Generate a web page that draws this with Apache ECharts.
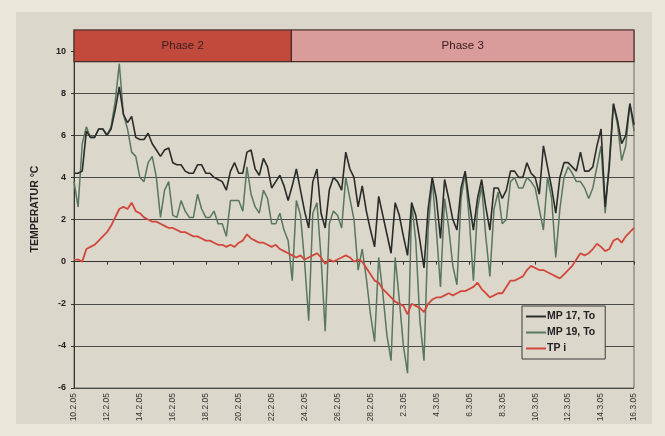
<!DOCTYPE html>
<html>
<head>
<meta charset="utf-8">
<script src="https://cdn.jsdelivr.net/npm/echarts@6/dist/echarts.min.js"></script>
<style>
  html, body { margin: 0; padding: 0; background: #eae6da; }
  #chart { width: 665px; height: 436px; }
</style>
</head>
<body>
<div id="chart"></div>
<script>
// Tick labels along the time axis (one every two days)
const dateLabels = ['10.2.05', '12.2.05', '14.2.05', '16.2.05', '18.2.05', '20.2.05',
  '22.2.05', '24.2.05', '26.2.05', '28.2.05', '2.3.05', '4.3.05', '6.3.05', '8.3.05',
  '10.3.05', '12.3.05', '14.3.05', '16.3.05'];

// Readings every 6 hours, starting 10.2.05 00:00
const stepDays = 0.25;

// MP 17, To
const mp17 = [
  4.2, 4.2, 4.3, 6.2, 5.9, 5.9, 6.3, 6.3, 6.0, 6.3, 7.2, 8.3,
  7.0, 6.6, 6.9, 5.9, 5.8, 5.8, 6.1, 5.6, 5.3, 5.0, 5.3, 5.4,
  4.7, 4.6, 4.6, 4.3, 4.2, 4.2, 4.6, 4.6, 4.2, 4.2, 4.0, 3.9,
  3.8, 3.4, 4.3, 4.7, 4.2, 4.2, 5.2, 5.3, 4.4, 4.1, 4.9, 4.5,
  3.5, 3.8, 4.1, 3.6, 2.9, 3.6, 4.4, 3.4, 2.4, 1.6, 3.8, 4.4,
  2.3, 1.6, 3.4, 4.0, 3.8, 3.4, 5.2, 4.4, 4.0, 2.6, 3.6, 2.4,
  1.5, 0.7, 3.1, 2.2, 1.3, 0.4, 2.8, 2.2, 1.2, 0.3, 2.8, 2.2,
  1.0, -0.3, 2.5, 4.0, 3.0, 1.1, 3.9, 3.0, 2.0, 1.5, 3.5, 4.3,
  2.8, 1.5, 3.0, 3.9, 2.6, 1.5, 3.5, 3.5, 3.0, 3.4, 4.3, 4.3,
  4.0, 4.0, 4.7, 4.2, 4.0, 3.2, 5.5, 4.5, 3.5, 2.3, 4.0, 4.7,
  4.7, 4.5, 4.3, 5.2, 4.3, 4.3, 4.5, 5.5, 6.3, 2.6, 4.5, 7.5,
  6.7, 5.6, 6.0, 7.5, 6.5
];

// MP 19, To
const mp19 = [
  3.8, 2.6, 5.6, 6.4, 5.9, 5.9, 6.3, 6.3, 6.0, 6.4, 7.6, 9.4,
  7.0, 6.3, 5.2, 5.0, 4.0, 3.8, 4.7, 5.0, 4.0, 2.1, 3.4, 3.8,
  2.2, 2.1, 2.9, 2.4, 2.1, 2.1, 3.2, 2.5, 2.1, 2.1, 2.4, 1.8,
  1.8, 1.2, 2.9, 2.9, 2.9, 2.4, 4.5, 3.2, 2.6, 2.3, 3.4, 3.0,
  1.8, 1.8, 2.3, 1.5, 1.0, -0.9, 2.9, 2.2, 0.0, -2.8, 2.3, 2.8,
  0.2, -3.3, 1.8, 2.4, 2.2, 1.6, 4.0, 3.0, 2.0, -0.4, 0.6, -0.8,
  -2.5, -3.8, 0.2, -1.5, -3.5, -4.7, 0.2, -1.8, -4.0, -5.3, 2.8, 1.0,
  -2.8, -4.7, 1.5, 3.9, 1.5, -1.2, 3.0, 1.6, -0.2, -1.1, 3.0, 4.2,
  2.0, -0.9, 2.5, 3.6, 1.2, -0.7, 2.5, 3.3, 1.8, 2.0, 3.8, 4.0,
  3.5, 3.5, 4.0, 3.8, 3.5, 2.5, 1.5, 4.0, 3.0, 0.2, 2.5, 4.0,
  4.5, 4.2, 3.8, 3.8, 3.5, 3.0, 3.5, 4.5, 5.5, 2.3, 4.8, 7.5,
  6.5, 4.8, 5.5, 7.5, 6.2
];

// TP i
const tpi = [
  0.1, 0.1, 0.0, 0.6, 0.7, 0.8, 1.0, 1.2, 1.4, 1.7, 2.1, 2.5,
  2.6, 2.5, 2.8, 2.4, 2.3, 2.1, 2.0, 1.9, 1.9, 1.8, 1.7, 1.6,
  1.6, 1.5, 1.4, 1.4, 1.3, 1.2, 1.2, 1.1, 1.0, 1.0, 0.9, 0.8,
  0.8, 0.7, 0.8, 0.7, 0.9, 1.0, 1.3, 1.1, 1.0, 0.9, 0.9, 0.8,
  0.7, 0.8, 0.6, 0.5, 0.4, 0.3, 0.2, 0.3, 0.1, 0.2, 0.3, 0.4,
  0.2, -0.1, 0.1, 0.0, 0.1, 0.2, 0.3, 0.2, 0.0, 0.1, 0.0, -0.3,
  -0.6, -0.9, -1.0, -1.3, -1.5, -1.7, -1.9, -2.0, -2.1, -2.5, -2.0, -2.1,
  -2.2, -2.4, -2.0, -1.8, -1.7, -1.7, -1.6, -1.5, -1.6, -1.5, -1.4, -1.4,
  -1.3, -1.2, -1.0, -1.3, -1.5, -1.7, -1.6, -1.5, -1.5, -1.2, -0.9, -0.9,
  -0.8, -0.7, -0.4, -0.2, -0.3, -0.4, -0.4, -0.5, -0.6, -0.7, -0.8, -0.6,
  -0.4, -0.2, 0.1, 0.4, 0.3, 0.4, 0.6, 0.85, 0.7, 0.5, 0.6, 1.0,
  1.1, 0.9, 1.2, 1.4, 1.6
];

// Test phases: names, start/end in days from 10.2.05, and the band they occupy
const phaseNames = ['Phase 2', 'Phase 3'];
const phaseBounds = [0, 13.2, 34];
const phaseColors = ['#c24a3c', '#d99c9a'];
const phaseBand = [9.5, 11];

const toPairs = arr => arr.map((v, k) => [k * stepDays, v]);

const chart = echarts.init(document.getElementById('chart'), null, { renderer: 'canvas' });

const font = '"Liberation Sans", Arial, sans-serif';

chart.setOption({
  backgroundColor: 'transparent',
  animation: false,
  graphic: [{
    type: 'rect',
    left: 16, top: 12,
    shape: { width: 636, height: 412 },
    style: { fill: '#dbd7cb' },
    z: -10
  }],
  grid: {
    left: 74, right: 31, top: 30, bottom: 48,
    show: true,
    borderColor: '#6a6a66',
    borderWidth: 1,
    backgroundColor: 'transparent'
  },
  legend: {
    orient: 'vertical',
    left: 522, top: 306,
    backgroundColor: '#dbd7cb',
    borderColor: '#3a3a38',
    borderWidth: 1,
    borderRadius: 0,
    padding: [5, 10, 5, 4],
    itemGap: 5,
    itemWidth: 20,
    itemHeight: 2,
    icon: 'rect',
    textStyle: { fontFamily: font, fontSize: 10.5, fontWeight: 'bold', color: '#222', padding: [0, 0, 0, -4] },
    data: ['MP 17, To', 'MP 19, To', 'TP i']
  },
  xAxis: {
    type: 'value',
    min: 0, max: 34, interval: 2,
    axisLine: { show: true, lineStyle: { color: '#333', width: 1 } },
    axisTick: { show: true, length: 3, lineStyle: { color: '#333' } },
    splitLine: { show: false },
    axisLabel: {
      rotate: 90,
      fontFamily: font,
      fontSize: 8.5,
      color: '#333',
      margin: 5,
      formatter: v => dateLabels[Math.round(v / 2)] || ''
    }
  },
  yAxis: {
    type: 'value',
    min: -6, max: 11, interval: 2,
    name: 'TEMPERATUR °C',
    nameLocation: 'middle',
    nameGap: 33,
    nameTextStyle: { fontFamily: font, fontSize: 10.5, fontWeight: 'bold', color: '#222' },
    axisLine: { show: true, lineStyle: { color: '#333', width: 1 } },
    axisTick: { show: true, length: 3, lineStyle: { color: '#333' } },
    splitLine: { show: true, lineStyle: { color: '#4a4a48', width: 1.2 } },
    axisLabel: {
      fontFamily: font,
      fontSize: 9,
      fontWeight: 'bold',
      color: '#222',
      margin: 8,
      showMaxLabel: false,
      formatter: v => (v > 10 ? '' : String(v))
    }
  },
  series: [
    {
      name: 'MP 17, To',
      type: 'line',
      data: toPairs(mp17),
      showSymbol: false,
      symbol: 'none',
      lineStyle: { color: '#2a2c2a', width: 1.6 },
      itemStyle: { color: '#2a2c2a' },
      z: 4
    },
    {
      name: 'MP 19, To',
      type: 'line',
      data: toPairs(mp19),
      showSymbol: false,
      symbol: 'none',
      lineStyle: { color: '#587660', width: 1.5 },
      itemStyle: { color: '#587660' },
      z: 3
    },
    {
      name: 'TP i',
      type: 'line',
      data: toPairs(tpi),
      showSymbol: false,
      symbol: 'none',
      lineStyle: { color: '#d2473c', width: 1.8 },
      itemStyle: { color: '#d2473c' },
      z: 5,
      markArea: {
        silent: true,
        z: 6,
        label: {
          show: true,
          position: 'inside',
          fontFamily: font,
          fontSize: 11.5,
          color: '#3a2020'
        },
        data: phaseNames.map((name, i) => [
          {
            name: name,
            xAxis: phaseBounds[i],
            yAxis: phaseBand[0],
            itemStyle: { color: phaseColors[i], borderColor: '#4a2a26', borderWidth: 1.2, opacity: 1 }
          },
          { xAxis: phaseBounds[i + 1], yAxis: phaseBand[1] }
        ])
      }
    }
  ]
});
</script>
</body>
</html>
